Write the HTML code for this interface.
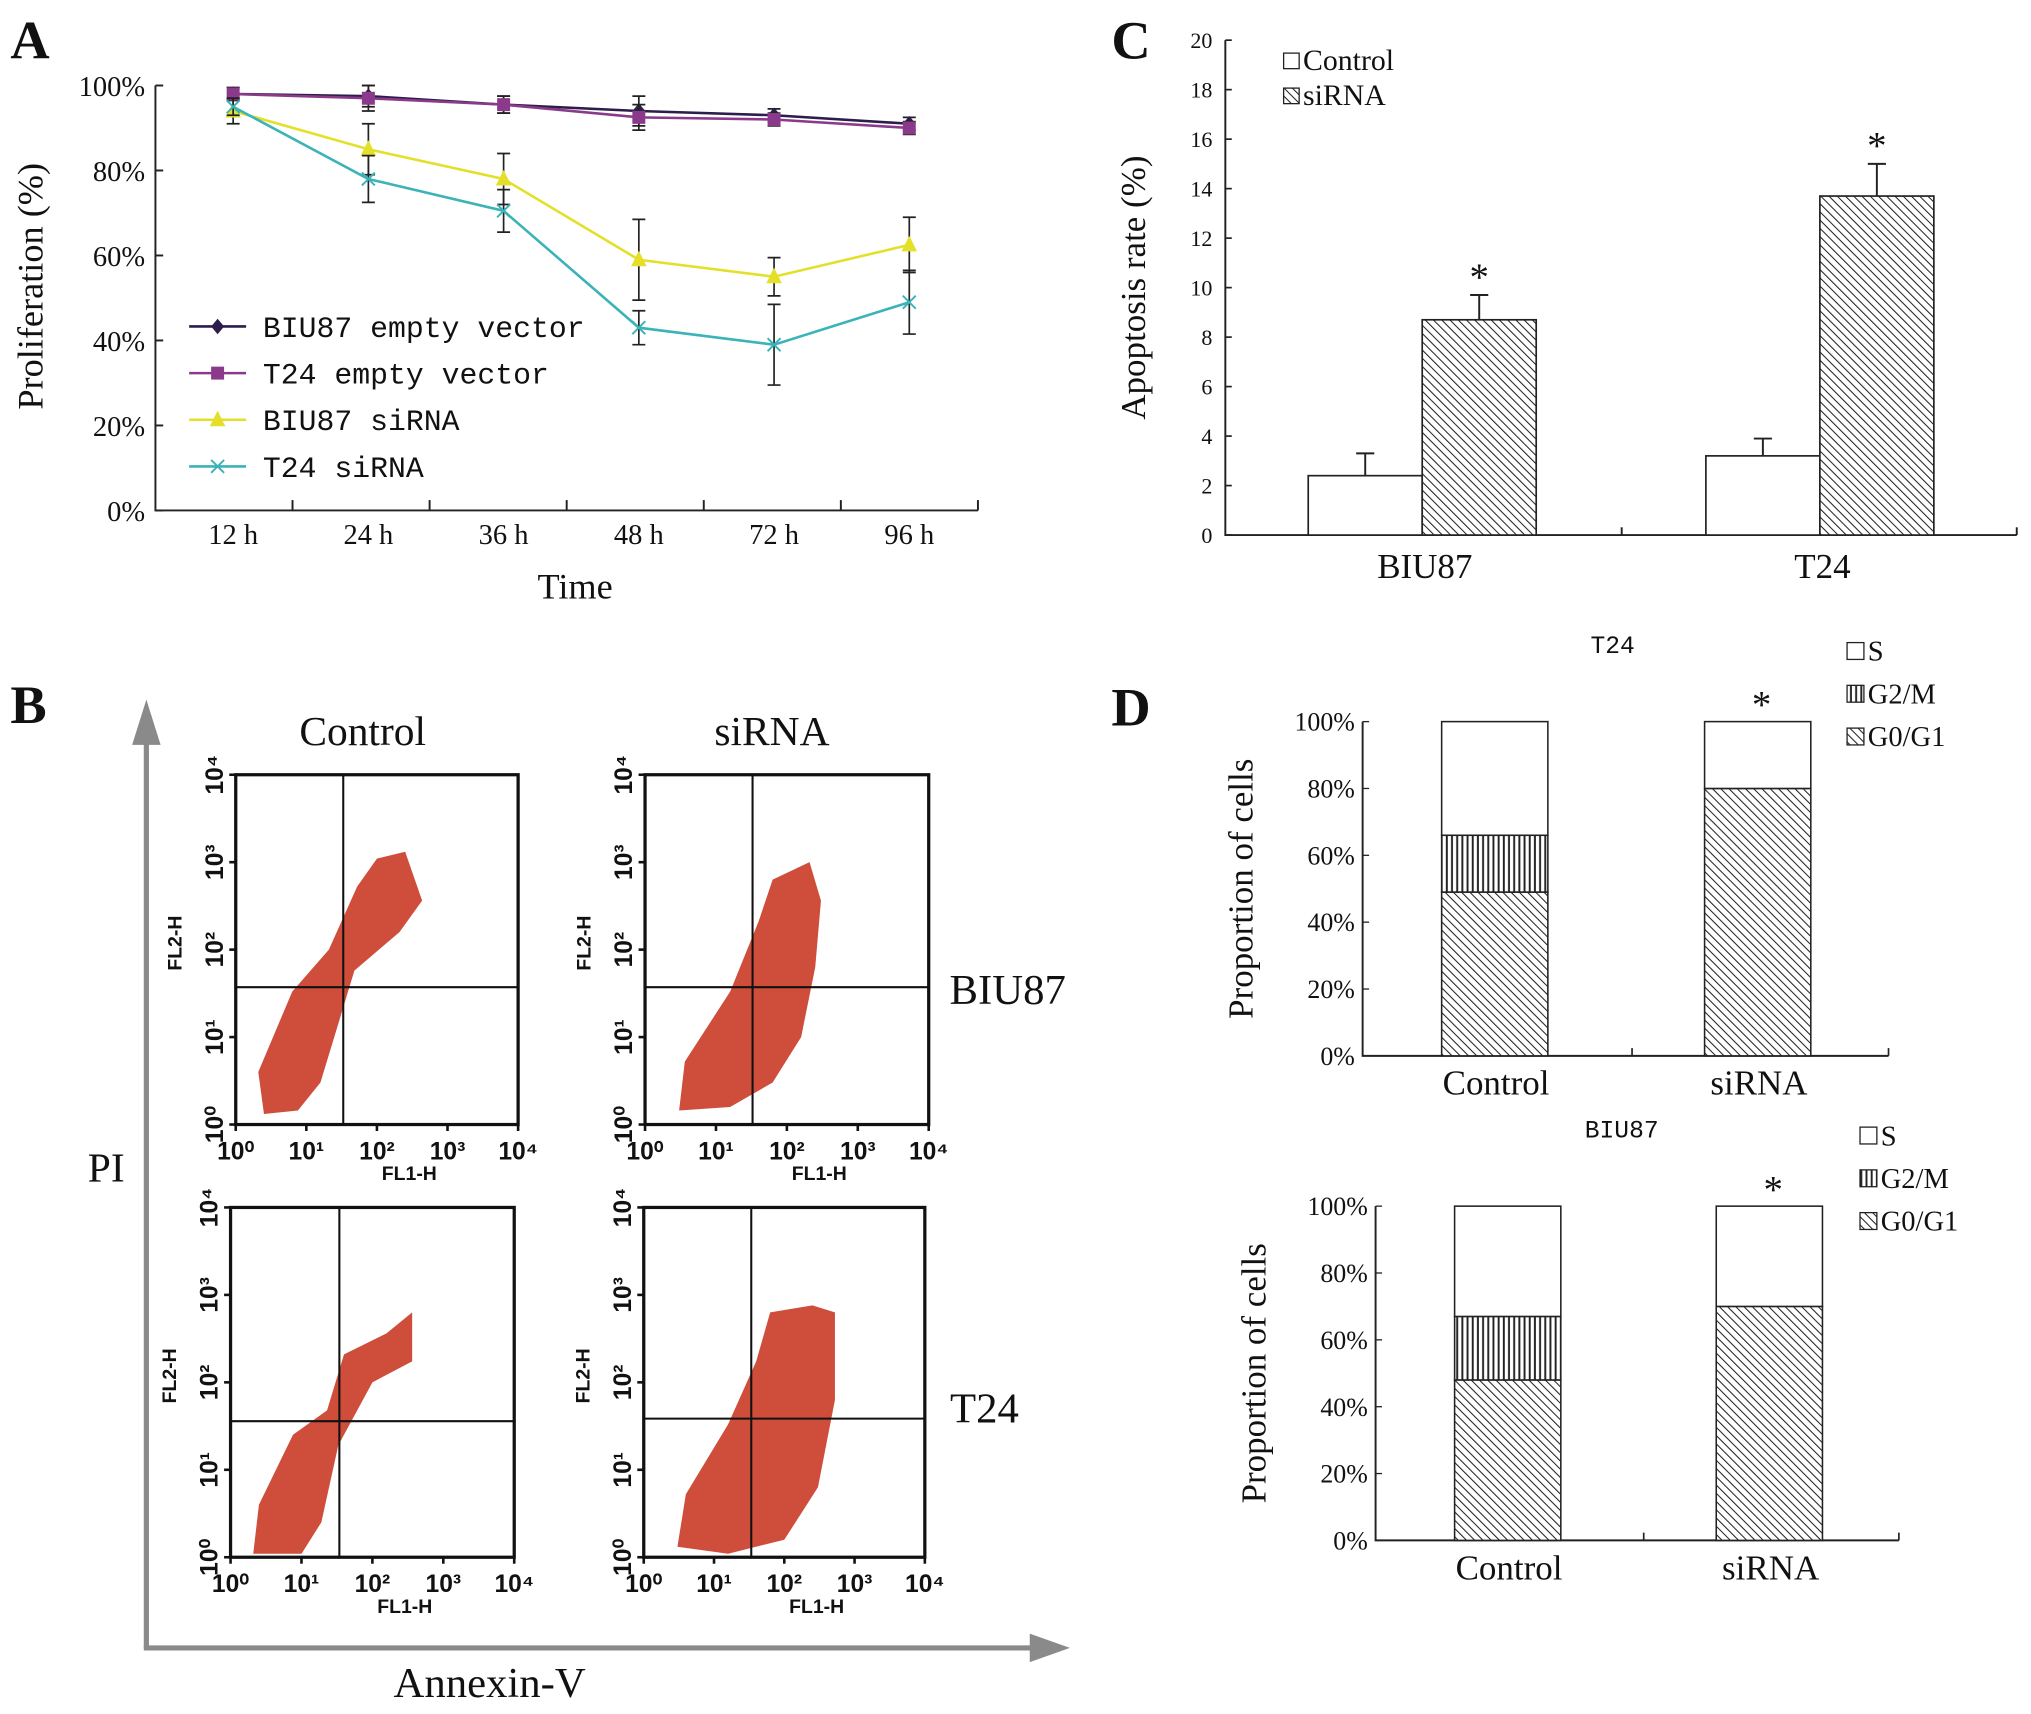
<!DOCTYPE html>
<html><head><meta charset="utf-8"><style>
html,body{margin:0;padding:0;background:#fff}
svg{display:block}
text{font-family:"Liberation Serif",serif;fill:#111}
.mono{font-family:"Liberation Mono",monospace}
.sans{font-family:"Liberation Sans",sans-serif;font-weight:bold}
</style></head><body>
<svg id="fig" width="2031" height="1714" viewBox="0 0 1568 1323" preserveAspectRatio="none" xmlns="http://www.w3.org/2000/svg">
<defs>
<pattern id="diag" patternUnits="userSpaceOnUse" width="4.5" height="4.5" patternTransform="rotate(-45)"><rect width="4.5" height="4.5" fill="#fff"/><line x1="0" y1="0" x2="0" y2="4.5" stroke="#222" stroke-width="1.6"/></pattern>
<pattern id="vert" patternUnits="userSpaceOnUse" width="4" height="4"><rect width="4" height="4" fill="#fff"/><line x1="1" y1="0" x2="1" y2="4" stroke="#222" stroke-width="1.5"/></pattern>
</defs>
<g id="A"></g>
<g id="B"></g>
<g id="C"></g>
<g id="D"></g>
</svg>
<script>
// ---- Panel A data ----
const timeCats = ["12 h","24 h","36 h","48 h","72 h","96 h"];
const seriesNames = ["BIU87 empty vector","T24 empty vector","BIU87 siRNA","T24 siRNA"];
const biu87Empty = [98,97.5,95.5,94,93,91];
const t24Empty = [98,97,95.5,92.5,92,90];
const biu87Si = [94,85,78,59,55,62.5];
const t24Si = [95,78,70.5,43,39,49];
const biu87EmptyErr = [1.5,2.5,2,3.5,1.5,1.5];
const t24EmptyErr = [1.5,3,2,3,1.5,1.5];
const biu87SiErr = [3,6,6,9.5,4.5,6.5];
const t24SiErr = [2,5.5,5,4,9.5,7.5];
const aTicks = [0,20,40,60,80,100];
// ---- Panel C data ----
const cGroups = ["BIU87","T24"];
const cControl = [2.4,3.2];
const cSirna = [8.7,13.7];
const cControlErr = [0.9,0.7];
const cSirnaErr = [1.0,1.3];
const cTicks = [0,2,4,6,8,10,12,14,16,18,20];
// ---- Panel D data ----
const dCats = ["Control","siRNA"];
const t24G0 = [49,80];
const t24G2 = [17,0];
const biuG0 = [48,70];
const biuG2 = [19,0];
const dTicks = [0,20,40,60,80,100];

const NS="http://www.w3.org/2000/svg";
function mk(parent,tag,attrs,txt){const e=document.createElementNS(NS,tag);for(const k in attrs)e.setAttribute(k,attrs[k]);if(txt!==undefined)e.textContent=txt;parent.appendChild(e);return e;}

// ===== Panel A =====
const A=document.getElementById('A');
let t=mk(A,'text',{x:8,y:45,'font-size':42,'font-weight':'bold'},'A');

const ax0=120,ax1=755,ay0=394,ay1=66;
const ay=v=>ay0-(v/100)*(ay0-ay1);
const catW=(ax1-ax0)/6;
const axX=i=>180+104.4*i;
let l=mk(A,'path',{d:`M${ax0},${ay1} L${ax0},${ay0} L${ax1},${ay0}`,fill:'none',stroke:'#222','stroke-width':1.5});

aTicks.forEach(v=>{mk(A,'line',{x1:ax0,x2:ax0+6,y1:ay(v),y2:ay(v),stroke:'#222','stroke-width':1.5});
 const tt=mk(A,'text',{x:ax0-8,y:ay(v)+8,'font-size':22,'text-anchor':'end'},v+'%');
 });
for(let i=1;i<=6;i++){mk(A,'line',{x1:ax0+catW*i,x2:ax0+catW*i,y1:ay0,y2:ay0-8,stroke:'#222','stroke-width':1.5});}
timeCats.forEach((c,i)=>{const tt=mk(A,'text',{x:axX(i),y:420,'font-size':22,'text-anchor':'middle'},c);
 });
t=mk(A,'text',{x:444,y:462,'font-size':28,'text-anchor':'middle'},'Time');
t=mk(A,'text',{x:0,y:0,'font-size':28,'text-anchor':'middle',transform:'translate(33,221) rotate(-90)'},'Proliferation (%)');
const aSeries=[[biu87Empty,biu87EmptyErr,'#2c1e4a','diamond'],[t24Empty,t24EmptyErr,'#8b3a8b','square'],[biu87Si,biu87SiErr,'#e4e02a','tri'],[t24Si,t24SiErr,'#3bb3b8','x']];
function marker(g,x,y,type,col){
 if(type==='diamond')return mk(g,'path',{d:`M${x},${y-6}L${x+5},${y}L${x},${y+6}L${x-5},${y}Z`,fill:col});
 if(type==='square')return mk(g,'rect',{x:x-5,y:y-5,width:10,height:10,fill:col});
 if(type==='tri')return mk(g,'path',{d:`M${x},${y-7}L${x+6},${y+5}L${x-6},${y+5}Z`,fill:col});
 const p=mk(g,'path',{d:`M${x-5},${y-5}L${x+5},${y+5}M${x+5},${y-5}L${x-5},${y+5}`,stroke:col,'stroke-width':1.5});return p;}
aSeries.forEach((s,si)=>{
 const g=mk(A,'g',{});
 s[0].forEach((v,i)=>{const x=axX(i),e=s[1][i];
  const eb=mk(g,'path',{d:`M${x},${ay(v+e)}L${x},${ay(v-e)}M${x-5},${ay(v+e)}L${x+5},${ay(v+e)}M${x-5},${ay(v-e)}L${x+5},${ay(v-e)}`,stroke:'#222','stroke-width':1.3});
  });
 const d=s[0].map((v,i)=>(i?'L':'M')+axX(i)+','+ay(v)).join('');
 const ln=mk(g,'path',{d:d,fill:'none',stroke:s[2],'stroke-width':2});
 s[0].forEach((v,i)=>{const m=marker(g,axX(i),ay(v),s[3],s[2]);});
 const ly=252+si*36;
 const lg=mk(A,'g',{});
 mk(lg,'line',{x1:146,x2:190,y1:ly,y2:ly,stroke:s[2],'stroke-width':2});marker(lg,168,ly,s[3],s[2]);
 mk(lg,'text',{x:203,y:ly+8,'font-size':23,class:'mono'},seriesNames[si]);
});

// ===== Panel C =====
const C=document.getElementById('C');
t=mk(C,'text',{x:858,y:45,'font-size':42,'font-weight':'bold'},'C');
const cx0=946,cx1=1557,cy0=413,cy1=31;
const cy=v=>cy0-(v/20)*(cy0-cy1);
mk(C,'path',{d:`M${cx0},${cy1} L${cx0},${cy0} L${cx1},${cy0}`,fill:'none',stroke:'#222','stroke-width':1.5});
mk(C,'line',{x1:1252,x2:1252,y1:cy0,y2:cy0-6,stroke:'#222','stroke-width':1.5});
mk(C,'line',{x1:cx1,x2:cx1,y1:cy0,y2:cy0-6,stroke:'#222','stroke-width':1.5});
cTicks.forEach(v=>{mk(C,'line',{x1:cx0,x2:cx0+5,y1:cy(v),y2:cy(v),stroke:'#222','stroke-width':1.3});
 const tt=mk(C,'text',{x:cx0-10,y:cy(v)+6,'font-size':17,'text-anchor':'end',fill:'#333'},v);});
t=mk(C,'text',{x:0,y:0,'font-size':27,'text-anchor':'middle',transform:'translate(884,222) rotate(-90)'},'Apoptosis rate (%)');
const cgx=[1098,1405];
cGroups.forEach((gname,i)=>{
 [[cControl,cControlErr,'#fff',-88],[cSirna,cSirnaErr,'url(#diag)',0]].forEach((b,j)=>{
  const v=b[0][i],e=b[1][i],x=cgx[i]+b[3];
  const r=mk(C,'rect',{x:x,y:cy(v),width:88,height:cy0-cy(v),fill:b[2],stroke:'#222','stroke-width':1.3});
  
  const xm=x+44;mk(C,'path',{d:`M${xm},${cy(v)}L${xm},${cy(v+e)}M${xm-7},${cy(v+e)}L${xm+7},${cy(v+e)}`,stroke:'#222','stroke-width':1.5});
  if(j){const st=mk(C,'text',{x:xm,y:cy(v+e)-4,'font-size':30,'text-anchor':'middle'},'*');}
 });
 const tt=mk(C,'text',{x:cgx[i]+2,y:446,'font-size':27,'text-anchor':'middle'},gname);
});
[['Control','#fff',53],['siRNA','url(#diag)',80]].forEach(le=>{const g=mk(C,'g',{});
 mk(g,'rect',{x:991,y:le[2]-12,width:12,height:12,fill:le[1],stroke:'#222'});mk(g,'text',{x:1006,y:le[2]+1,'font-size':23},le[0]);});

// ===== Panel D =====
const D=document.getElementById('D');
t=mk(D,'text',{x:858,y:560,'font-size':42,'font-weight':'bold'},'D');
function stacked(o){
 const g=mk(D,'g',{});
 const y=v=>o.y0-(v/100)*(o.y0-o.y1);
 mk(g,'path',{d:`M${o.x0},${o.y1} L${o.x0},${o.y0} L${o.x1},${o.y0}`,fill:'none',stroke:'#222','stroke-width':1.5});
 mk(g,'line',{x1:(o.x0+o.x1)/2+5,x2:(o.x0+o.x1)/2+5,y1:o.y0,y2:o.y0-6,stroke:'#222','stroke-width':1.3});
 mk(g,'line',{x1:o.x1,x2:o.x1,y1:o.y0,y2:o.y0-6,stroke:'#222','stroke-width':1.3});
 dTicks.forEach(v=>{mk(g,'line',{x1:o.x0,x2:o.x0+5,y1:y(v),y2:y(v),stroke:'#222'});
  const tt=mk(g,'text',{x:o.x0-6,y:y(v)+7,'font-size':20,'text-anchor':'end'},v+'%');});
 const yt=mk(g,'text',{x:0,y:0,'font-size':27,'text-anchor':'middle',transform:`translate(${o.x0-85},${(o.y0+o.y1)/2}) rotate(-90)`},'Proportion of cells');
 dCats.forEach((c,i)=>{const x=o.bx[i],g0=o.g0[i],g2=o.g2[i];
  [[0,g0,'url(#diag)','g0-g1'],[g0,g0+g2,'url(#vert)','g2-m'],[g0+g2,100,'#fff','s']].forEach(sg=>{if(sg[1]-sg[0]<=0)return;
   const r=mk(g,'rect',{x:x,y:y(sg[1]),width:82,height:y(sg[0])-y(sg[1]),fill:sg[2],stroke:'#222','stroke-width':1.2});
   });
  const tt=mk(g,'text',{x:x+42,y:o.y0+30,'font-size':27,'text-anchor':'middle'},c);});
 const st=mk(g,'text',{x:o.bx[1]+44,y:o.y1-3,'font-size':30,'text-anchor':'middle'},'*');
 const ti=mk(g,'text',{x:o.tx,y:o.y1-53,'font-size':19,'text-anchor':'middle',class:'mono'},o.title);
 [['S','#fff'],['G2/M','url(#vert)'],['G0/G1','url(#diag)']].forEach((le,k)=>{const ly=o.y1-48+k*33;
  const lg=mk(g,'g',{});
  mk(lg,'rect',{x:o.lx,y:ly-13,width:13,height:13,fill:le[1],stroke:'#222'});mk(lg,'text',{x:o.lx+16,y:ly+1,'font-size':22},le[0]);});
}
stacked({name:'d-t24-chart',x0:1052,x1:1458,y0:815,y1:557,bx:[1113,1316],g0:t24G0,g2:t24G2,title:'T24',tx:1245,lx:1426});
stacked({name:'d-biu87-chart',x0:1062,x1:1466,y0:1189,y1:931,bx:[1123,1325],g0:biuG0,g2:biuG2,title:'BIU87',tx:1252,lx:1436});

// ===== Panel B =====
const B=document.getElementById('B');
t=mk(B,'text',{x:8,y:558,'font-size':42,'font-weight':'bold'},'B');
mk(B,'line',{x1:113,y1:1272,x2:113,y2:570,stroke:'#8a8a8a','stroke-width':4});
mk(B,'path',{d:'M102,575 L113,540 L124,575 Z',fill:'#8a8a8a'});
mk(B,'line',{x1:111,y1:1272,x2:800,y2:1272,stroke:'#8a8a8a','stroke-width':4});
mk(B,'path',{d:'M795,1261 L826,1272 L795,1283 Z',fill:'#8a8a8a'});
[['Control',280,575,26],['siRNA',596,575,26],['BIU87',778,775,27],['T24',760,1098,27],['PI',82,912,26],['Annexin-V',378,1310,27]].forEach(a=>{
 const tt=mk(B,'text',{x:a[1],y:a[2],'font-size':a[3]+6,'text-anchor':'middle'},a[0]);});
const plots=[[182,598,400,868,265,762,0],[498,598,717,868,581,762,1],[178,932,397,1202,262,1097,2],[497,932,714,1202,580,1095,3]];
const blobs=[
 'M0.1,0.97 L0.08,0.85 L0.2,0.62 L0.33,0.5 L0.43,0.32 L0.5,0.24 L0.6,0.22 L0.66,0.36 L0.58,0.45 L0.42,0.56 L0.36,0.72 L0.3,0.88 L0.22,0.96 Z',
 'M0.12,0.96 L0.14,0.82 L0.3,0.62 L0.4,0.42 L0.45,0.3 L0.58,0.25 L0.62,0.36 L0.6,0.55 L0.55,0.75 L0.45,0.88 L0.3,0.95 Z',
 'M0.08,0.99 L0.1,0.85 L0.22,0.65 L0.34,0.58 L0.4,0.42 L0.55,0.36 L0.64,0.3 L0.64,0.44 L0.5,0.5 L0.38,0.68 L0.32,0.9 L0.25,0.99 Z',
 'M0.12,0.97 L0.15,0.82 L0.3,0.62 L0.4,0.44 L0.45,0.3 L0.6,0.28 L0.68,0.3 L0.68,0.55 L0.62,0.8 L0.5,0.95 L0.3,0.99 Z'];
plots.forEach(p=>{const [x0,y0,x1,y1,qx,qy,k]=p;const w=x1-x0,h=y1-y0;
 const g=mk(B,'g',{});
 const d=blobs[k].replace(/([\d.]+),([\d.]+)/g,(m,a,b)=>(x0+a*w).toFixed(1)+','+(y0+b*h).toFixed(1));
 const bl=mk(g,'path',{d:d,fill:'#c93a26',opacity:0.9});
 mk(g,'rect',{x:x0,y:y0,width:w,height:h,fill:'none',stroke:'#111','stroke-width':2.5});
 mk(g,'line',{x1:qx,x2:qx,y1:y0,y2:y1,stroke:'#111','stroke-width':1.6});
 mk(g,'line',{x1:x0,x2:x1,y1:qy,y2:qy,stroke:'#111','stroke-width':1.6});
 for(let i=0;i<=4;i++){const xx=x0+w*i/4,yy=y1-h*i/4;
  mk(g,'text',{x:xx,y:y1+27,'font-size':19,'text-anchor':'middle',class:'sans'},'10'+['⁰','¹','²','³','⁴'][i]);
  mk(g,'text',{x:0,y:0,'font-size':19,'text-anchor':'middle',class:'sans',transform:`translate(${x0-10},${yy}) rotate(-90)`},'10'+['⁰','¹','²','³','⁴'][i]);
  mk(g,'line',{x1:x0,x2:x0-5,y1:yy,y2:yy,stroke:'#111','stroke-width':2});mk(g,'line',{x1:xx,x2:xx,y1:y1,y2:y1+5,stroke:'#111','stroke-width':2});}
 mk(g,'text',{x:x0+w/2+25,y:y1+43,'font-size':15,'text-anchor':'middle',class:'sans'},'FL1-H');
 mk(g,'text',{x:0,y:0,'font-size':15,'text-anchor':'middle',class:'sans',transform:`translate(${x0-42},${y0+h/2-5}) rotate(-90)`},'FL2-H');
});
</script>
</body></html>
